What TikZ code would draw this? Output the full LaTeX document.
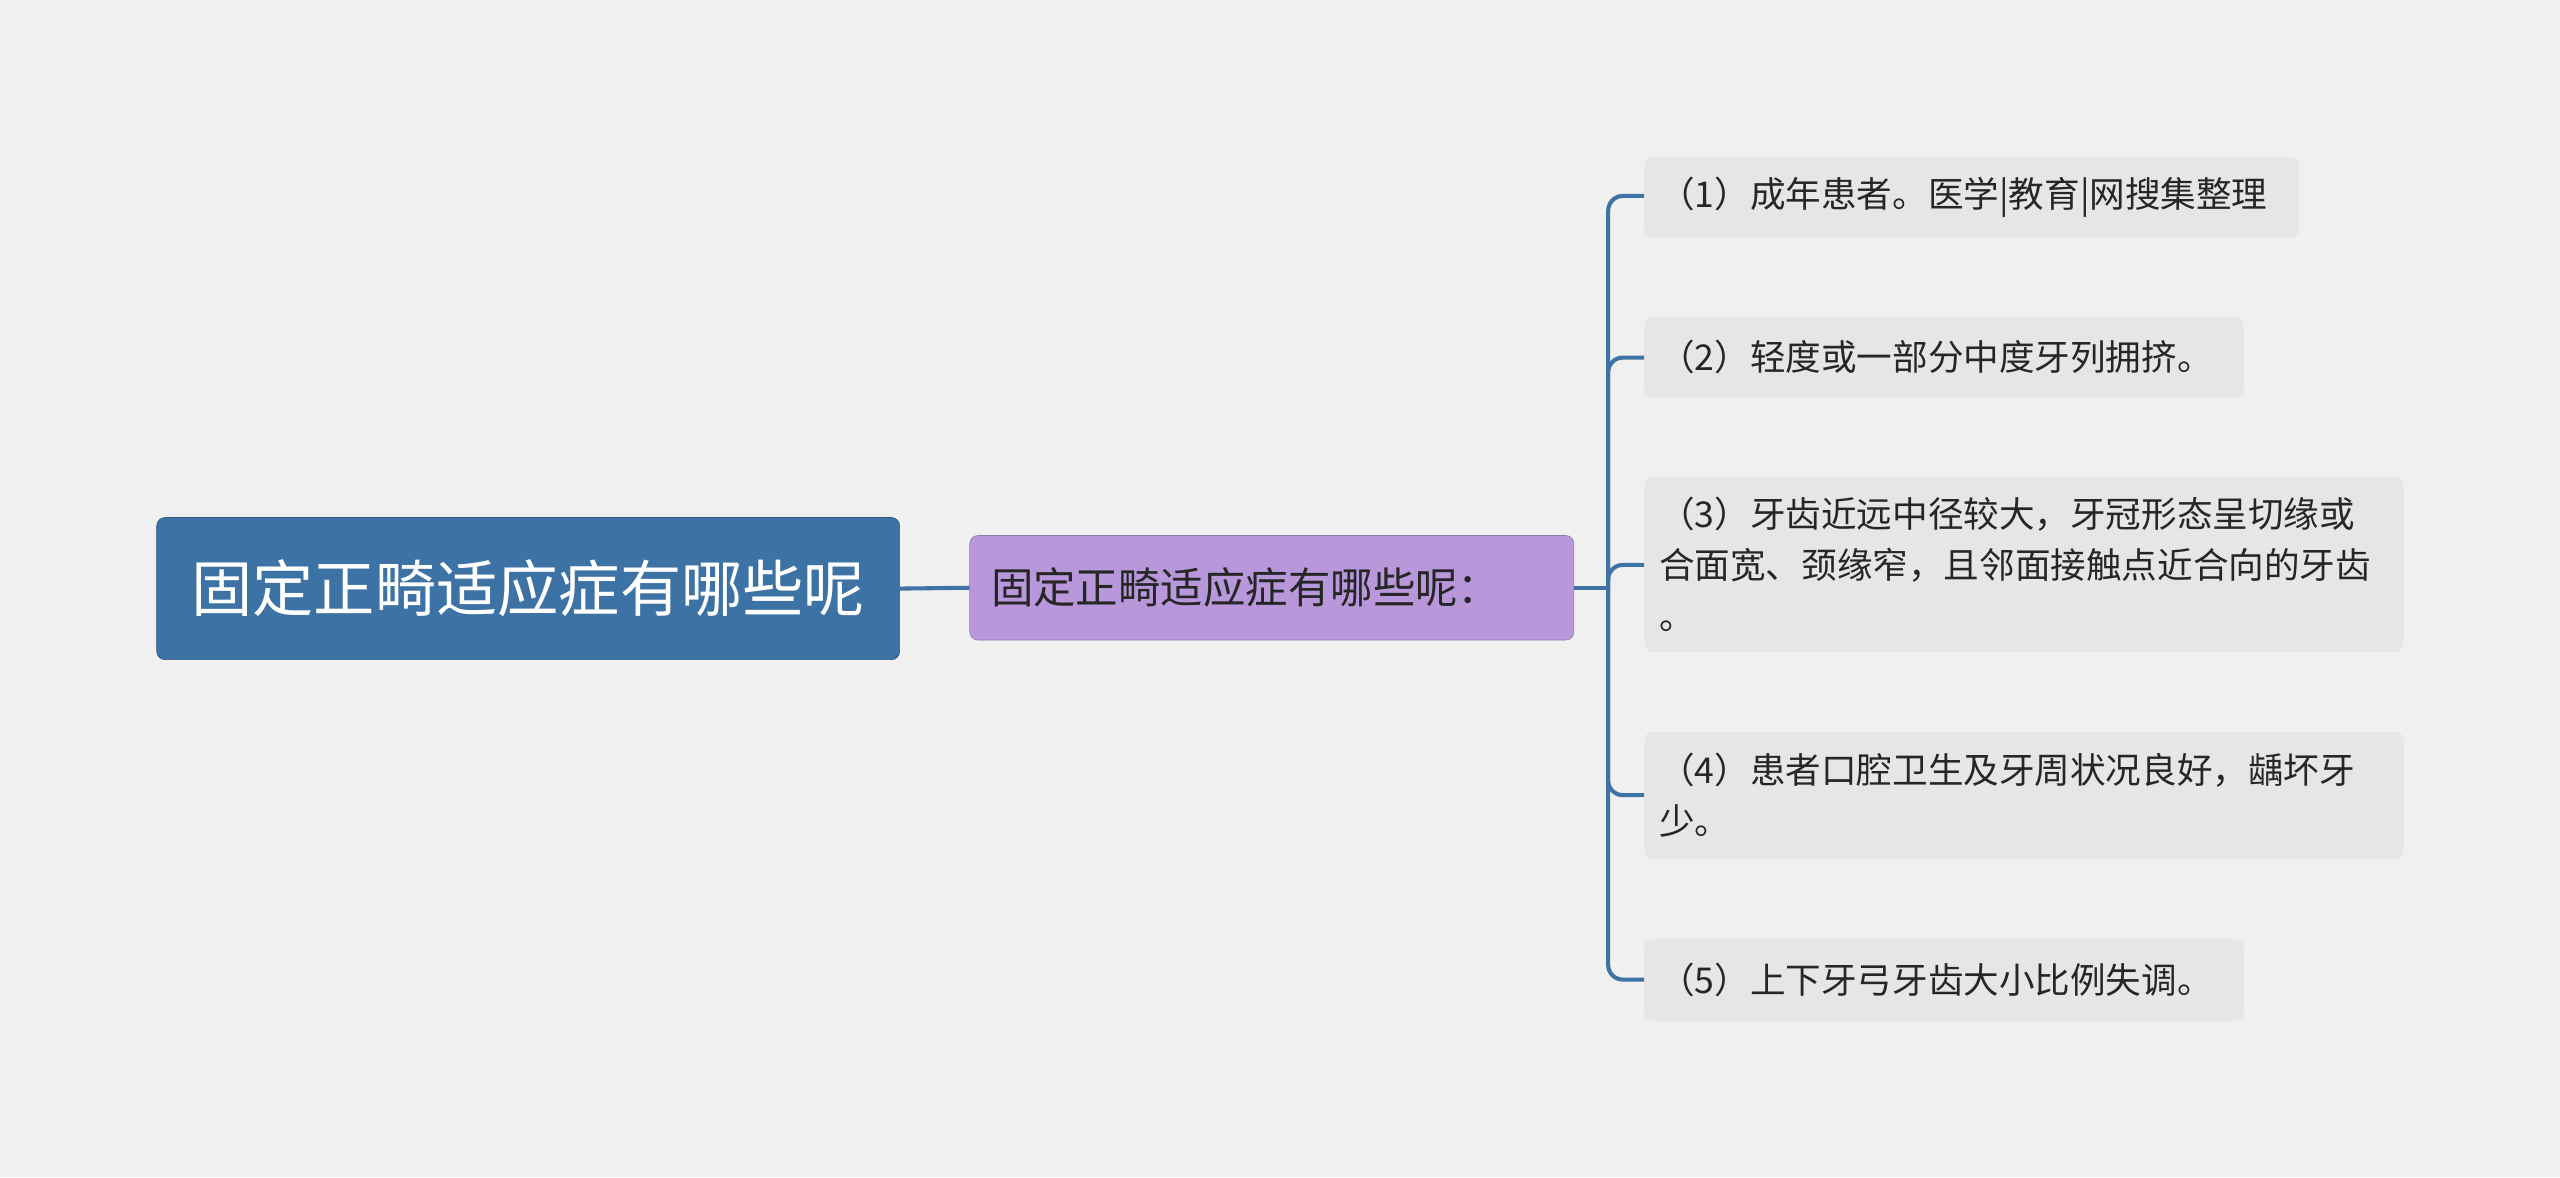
\documentclass[tikz,border=0pt]{standalone}
\usepackage{fontspec}
\setmainfont{Noto Sans CJK SC}
\begin{document}
\begin{tikzpicture}[x=1pt,y=-1pt,
  leaf/.style={fill=leafc, rounded corners=5pt, inner ysep=0pt, inner xsep=9pt, anchor=north west, font=\fontsize{21.8}{31}\selectfont, text=black!85},
  conn/.style={draw=linec, line width=2.5pt, rounded corners=9pt}]
\definecolor{bgc}{HTML}{F0F0F0}
\definecolor{leafc}{HTML}{E6E6E6}
\definecolor{linec}{HTML}{3F73A5}
\definecolor{rootc}{HTML}{3D72A4}
\definecolor{midc}{HTML}{B898DA}
\useasboundingbox (0,0) rectangle (1568,721);
\fill[bgc] (0,0) rectangle (1568,721);
\node[fill=rootc, draw=rootc!80!black, rounded corners=5pt, minimum width=455pt, minimum height=87pt, text=white, font=\fontsize{37.5}{42}\selectfont, inner sep=0pt] (root) at (323.5,360.5) {固定正畸适应症有哪些呢};
\node[fill=midc, draw=midc!80!black, rounded corners=5pt, minimum width=370pt, minimum height=64pt, text=black!85, font=\fontsize{26}{30}\selectfont, inner ysep=0pt, inner xsep=13pt, text width=344pt] (mid) at (779,360) {固定正畸适应症有哪些呢：};
\node[leaf, minimum width=401pt, minimum height=49pt, text width=383pt] (l1) at (1007,96) {（1）成年患者。医学|教育|网搜集整理};
\node[leaf, minimum width=367pt, minimum height=49pt, text width=349pt] (l2) at (1007,194) {（2）轻度或一部分中度牙列拥挤。};
\node[leaf, minimum width=465pt, minimum height=107pt, text width=447pt] (l3) at (1007,292) {（3）牙齿近远中径较大，牙冠形态呈切缘或\\合面宽、颈缘窄，且邻面接触点近合向的牙齿\\。};
\node[leaf, minimum width=465pt, minimum height=78pt, text width=447pt] (l4) at (1007,448) {（4）患者口腔卫生及牙周状况良好，龋坏牙\\少。};
\node[leaf, minimum width=367pt, minimum height=50pt, text width=349pt] (l5) at (1007,575) {（5）上下牙弓牙齿大小比例失调。};
\draw[conn] (root.east) -- (mid.west);
\coordinate (j) at (985,360);
\draw[conn] (mid.east) -- (j);
\draw[conn] (l1.west |- 0,120) -| (j) |- (l5.west |- 0,600);
\draw[conn] (j) |- (l2.west |- 0,219);
\draw[conn] (j) |- (l3.west |- 0,346);
\draw[conn] (j) |- (l4.west |- 0,487);
\end{tikzpicture}
\end{document}
